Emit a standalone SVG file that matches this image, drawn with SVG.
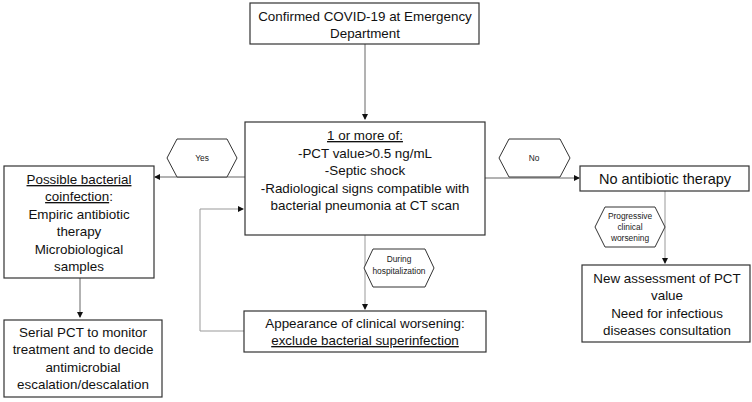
<svg xmlns="http://www.w3.org/2000/svg" width="752" height="402" viewBox="0 0 752 402">
<style>
.box{fill:#fff;stroke:#333;stroke-width:1.2}
.hex{fill:#fff;stroke:#333;stroke-width:1}
.t{font-family:"Liberation Sans",Arial,sans-serif;font-size:13.4px;fill:#111;text-anchor:middle}
.s{font-family:"Liberation Sans",Arial,sans-serif;font-size:8.4px;fill:#222;text-anchor:middle}
.c{fill:none;stroke:#666;stroke-width:1}
.cl{fill:none;stroke:#999;stroke-width:1}
.u{text-decoration:underline}
</style>
<defs>
<marker id="ah" markerWidth="6" markerHeight="6" refX="5" refY="3" orient="auto" markerUnits="userSpaceOnUse">
<path d="M0,0 L6,3 L0,6 z" fill="#111"/>
</marker>
</defs>
<rect width="752" height="402" fill="#fff"/>
<g id="connectors">
<line class="c" x1="365" y1="44" x2="365" y2="119" marker-end="url(#ah)"/>
<line class="c" x1="245" y1="177" x2="155" y2="177" marker-end="url(#ah)"/>
<line class="c" x1="485" y1="178" x2="579" y2="178" marker-end="url(#ah)"/>
<line class="c" x1="80" y1="278" x2="80" y2="317" marker-end="url(#ah)"/>
<line class="cl" x1="365" y1="235" x2="365" y2="309" marker-end="url(#ah)"/>
<line class="cl" x1="665" y1="191" x2="665" y2="263" marker-end="url(#ah)"/>
<polyline class="cl" points="244,331 200,331 200,209 243,209" marker-end="url(#ah)"/>
</g>
<g id="n-start">
<rect class="box" x="250" y="3" width="229" height="41"/>
<text class="t" x="365" y="21">Confirmed COVID-19 at Emergency</text>
<text class="t" x="365" y="38">Department</text>
</g>
<g id="n-criteria">
<rect class="box" x="245" y="122" width="240" height="113"/>
<text class="t" x="365" y="140"><tspan class="u">1 or more of:</tspan></text>
<text class="t" x="365" y="158">-PCT value&gt;0.5 ng/mL</text>
<text class="t" x="365" y="175">-Septic shock</text>
<text class="t" x="365" y="193">-Radiological signs compatible with</text>
<text class="t" x="365" y="210">bacterial pneumonia at CT scan</text>
</g>
<g id="l-yes">
<polygon class="hex" points="167,158 177,139 227,139 237,158 227,177 177,177"/>
<text class="s" x="202" y="161">Yes</text>
</g>
<g id="l-no">
<polygon class="hex" points="499,158 509,139 560,139 570,158 560,177 509,177"/>
<text class="s" x="534" y="161">No</text>
</g>
<g id="n-coinfection">
<rect class="box" x="4" y="166" width="150" height="112"/>
<text class="t" x="79" y="184"><tspan class="u">Possible bacterial</tspan></text>
<text class="t" x="79" y="201"><tspan class="u">coinfection</tspan>:</text>
<text class="t" x="79" y="219">Empiric antibiotic</text>
<text class="t" x="79" y="236">therapy</text>
<text class="t" x="79" y="254">Microbiological</text>
<text class="t" x="79" y="271">samples</text>
</g>
<g id="n-serial">
<rect class="box" x="4" y="320" width="158" height="77"/>
<text class="t" x="83" y="337">Serial PCT to monitor</text>
<text class="t" x="83" y="354">treatment and to decide</text>
<text class="t" x="83" y="372">antimicrobial</text>
<text class="t" x="83" y="389">escalation/descalation</text>
</g>
<g id="l-during">
<polygon class="hex" points="364,268 373,249 425,249 434,268 425,287 373,287"/>
<text class="s" x="399" y="262">During</text>
<text class="s" x="399" y="274">hospitalization</text>
</g>
<g id="n-worsening">
<rect class="box" x="244" y="311" width="242" height="41"/>
<text class="t" x="365" y="328">Appearance of clinical worsening:</text>
<text class="t" x="365" y="345"><tspan class="u">exclude bacterial superinfection</tspan></text>
</g>
<g id="n-noabx">
<rect class="box" x="580" y="166" width="169" height="25"/>
<text class="t" x="665" y="184" style="font-size:14.5px">No antibiotic therapy</text>
</g>
<g id="l-progressive">
<polygon class="hex" points="595,227 605,207 655,207 665,227 655,247 605,247"/>
<text class="s" x="630" y="219">Progressive</text>
<text class="s" x="630" y="230">clinical</text>
<text class="s" x="630" y="241">worsening</text>
</g>
<g id="n-newassess">
<rect class="box" x="582" y="265" width="168" height="77"/>
<text class="t" x="667" y="283">New assessment of PCT</text>
<text class="t" x="667" y="300">value</text>
<text class="t" x="667" y="318">Need for infectious</text>
<text class="t" x="667" y="335">diseases consultation</text>
</g>
</svg>
